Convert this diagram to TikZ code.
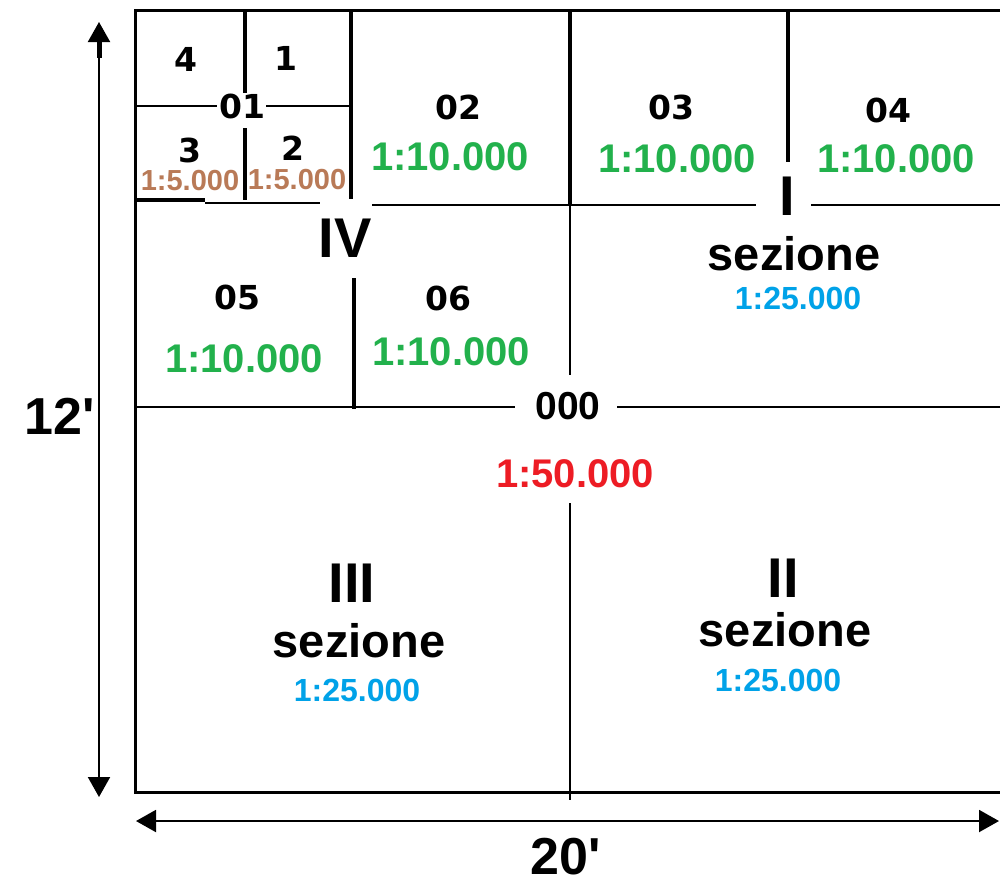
\documentclass[tikz,border=0pt]{standalone}
\usepackage{fontspec}
\usepackage{graphicx}
\setmainfont{Liberation Sans}
\newfontfamily\dejavu{DejaVu Sans}
\usetikzlibrary{arrows.meta}
\definecolor{pgreen}{RGB}{34,177,76}
\definecolor{pblue}{RGB}{0,162,232}
\definecolor{pred}{RGB}{237,28,36}
\definecolor{pbrown}{RGB}{185,122,87}
\tikzset{
  thinline/.style={line width=1pt},
  thickline/.style={line width=2pt},
  frameline/.style={line width=1.5pt},
  lab/.style={font=\dejavu\bfseries\fontsize{16.5}{17}\selectfont, inner sep=0pt},
  gscale/.style={font=\bfseries\fontsize{20}{20}\selectfont, text=pgreen, inner sep=0pt},
  bscale/.style={font=\bfseries\fontsize{14.5}{15}\selectfont, text=pbrown, inner sep=0pt},
  cscale/.style={font=\bfseries\fontsize{16}{16}\selectfont, text=pblue, inner sep=0pt},
  rscale/.style={font=\bfseries\fontsize{20}{20}\selectfont, text=pred, inner sep=0pt},
  roman/.style={font=\bfseries\fontsize{28}{28}\selectfont, inner sep=0pt},
  sez/.style={font=\bfseries\fontsize{23.5}{24}\selectfont, inner sep=0pt},
  dimtext/.style={font=\bfseries\fontsize{26}{26}\selectfont, inner sep=0pt},
  dimarrow/.style={line width=1pt, {Triangle[length=10pt,width=11pt]}-{Triangle[length=10pt,width=11pt]}}
}
\begin{document}
\begin{tikzpicture}[x=0.5pt,y=-0.5pt]
\useasboundingbox (0,0) rectangle (1000,885);
\fill[white] (0,0) rectangle (1000,885);

% outer frame (right side runs off the picture)
\draw[frameline] (1002,10) -- (135,10) -- (135,792) -- (1002,792);

% horizontal line at 000
\draw[thinline] (135,407) -- (515,407);
\draw[thinline] (617,407) -- (1002,407);
% central vertical line
\draw[thickline] (570,10) -- (570,205);
\draw[thinline] (570,205) -- (570,375);
\draw[thinline] (570,503) -- (570,800);

% horizontal line at y=205
\draw[thickline] (135,200) -- (205,200);
\draw[thinline] (205,203) -- (320,203);
\draw[thinline] (372,205) -- (756,205);
\draw[thinline] (811,205) -- (1002,205);

% vertical line at x=350
\draw[thickline] (351,10) -- (351,199);
\draw[thickline] (354,278) -- (354,409);

% vertical between 03 and 04
\draw[thickline] (788,10) -- (788,162);

% top-left sub-grid (01)
\draw[thickline] (245,10) -- (245,93);
\draw[thickline] (245,128) -- (245,200);
\draw[thinline] (135,106) -- (217,106);
\draw[thinline] (266,106) -- (351,106);

% labels
\node[lab] (n4) at (186,59) {4};
\node[lab] (n1) at (286,58) {1};
\node[lab] (n01) at (242,106) {01};
\node[lab] (n3) at (190,150) {3};
\node[lab] (n2) at (293,148) {2};
\node[bscale] (s3) at (190,181) {1:5.000};
\node[bscale] (s2) at (297,180) {1:5.000};

\node[lab] (n02) at (458,107) {02};
\node[gscale] (g02) at (450,157) {1:10.000};
\node[lab] (n03) at (671,107) {03};
\node[gscale] (g03) at (677,159) {1:10.000};
\node[lab] (n04) at (888,110) {04};
\node[gscale] (g04) at (896,159) {1:10.000};

\node[roman] (rI) at (787,196) {I};
\node[sez] (sI) at (794,254) {sezione};
\node[cscale] (cI) at (798,298) {1:25.000};

\node[roman] (rIV) at (345,238) {IV};
\node[lab] (n05) at (237,297) {05};
\node[gscale] (g05) at (244,359) {1:10.000};
\node[lab] (n06) at (448,298) {06};
\node[gscale] (g06) at (451,352) {1:10.000};

\node[font=\bfseries\fontsize{19.5}{20}\selectfont, inner sep=0pt] (n000) at (568,406) {000};
\node[rscale] (r000) at (575,474) {1:50.000};

\node[roman] (rIII) at (352,583) {III};
\node[sez] (sIII) at (359,641) {sezione};
\node[cscale] (cIII) at (357,690) {1:25.000};

\node[roman] (rII) at (783,578) {II};
\node[sez] (sII) at (785,630) {sezione};
\node[cscale] (cII) at (778,680) {1:25.000};

% dimension arrows
\coordinate (vtop) at (99,22);
\coordinate (vbot) at (99,797);
\coordinate (vtopA) at (99,38);
\coordinate (vtopB) at (99,58);
\draw[dimarrow] (vtop) -- (vbot);
\draw[line width=2.5pt] (vtopA) -- (vtopB);
\coordinate (hleft) at (136,821);
\coordinate (hright) at (999,821);
\draw[dimarrow] (hleft) -- (hright);
\node[dimtext] (d12) at (60,416) {12\textquotesingle};
\node[dimtext] (d20) at (566,857) {20\textquotesingle};
\end{tikzpicture}
\end{document}
